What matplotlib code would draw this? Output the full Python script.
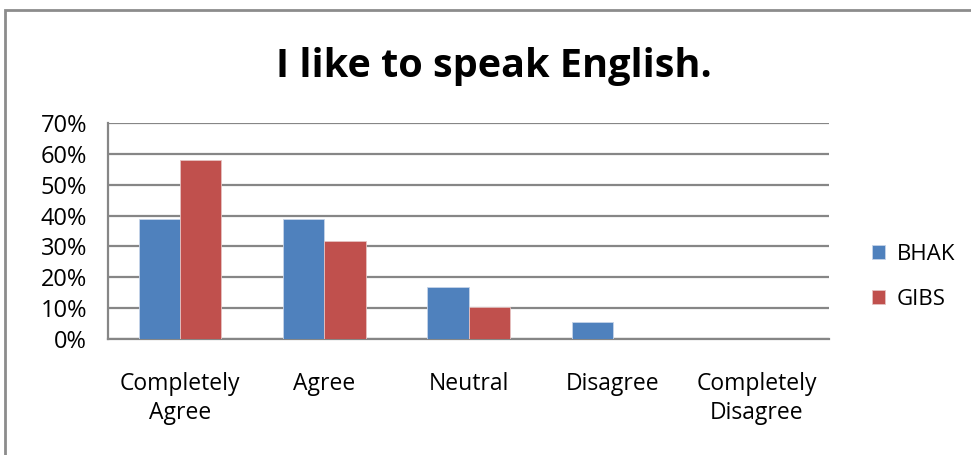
import matplotlib
matplotlib.use("Agg")
import matplotlib.pyplot as plt
import numpy as np
from matplotlib.patches import Rectangle

# ── data ────────────────────────────────────────────
categories = ["Completely\nAgree", "Agree", "Neutral", "Disagree", "Completely\nDisagree"]
bhak = [38.9, 38.9, 16.7, 5.6, 0.0]
gibs = [57.9, 31.6, 10.5, 0.0, 0.0]
series_names = ["BHAK", "GIBS"]
yticks = [0, 10, 20, 30, 40, 50, 60, 70]

BLUE = "#4F81BD"
RED = "#C0504D"
GRID = "#868686"
FONT = ["Open Sans", "DejaVu Sans"]

W, H = 971, 455
fig = plt.figure(figsize=(W / 100, H / 100), dpi=100)
fig.patch.set_facecolor("white")

# outer chart frame
fig.add_artist(Rectangle((5 / W, -0.05), 1.2, (H - 10) / H + 0.05,
                         transform=fig.transFigure, fill=False,
                         edgecolor="#8c8c8c", linewidth=2))

# plot area in pixels: x 108..829, y 123..339
ax = fig.add_axes([108 / W, 1 - 339 / H, (829 - 108) / W, (339 - 123) / H])

x = np.arange(len(categories))
w = 1 / 3.5
ax.bar(x - w / 2, bhak, width=w, color=BLUE, edgecolor="#c6d4e8", linewidth=0.6,
       label=series_names[0], zorder=3)
ax.bar(x + w / 2, gibs, width=w, color=RED, edgecolor="#e6c2c1", linewidth=0.6,
       label=series_names[1], zorder=3)

ax.set_xlim(-0.5, len(categories) - 0.5)
ax.set_ylim(0, 70)
ax.set_yticks(yticks)
ax.set_yticklabels([f"{t}%" for t in yticks], fontsize=17, family=FONT)
ax.set_xticks(x)
ax.set_xticklabels(categories, fontsize=16.5, family=FONT, linespacing=1.25)
ax.tick_params(axis="y", length=0, pad=15)
ax.tick_params(axis="x", length=0, pad=24)
ax.grid(axis="y", color=GRID, linewidth=1.6, zorder=0)
ax.set_axisbelow(True)
for side in ["top", "right"]:
    ax.spines[side].set_visible(False)
ax.spines["left"].set_color(GRID)
ax.spines["left"].set_linewidth(1.6)
ax.spines["bottom"].set_color(GRID)
ax.spines["bottom"].set_linewidth(1.6)

fig.text(494 / W, 1 - 67 / H, "I like to speak English.", ha="center", va="center",
         fontsize=28.5, fontweight="bold", family=FONT)

leg = fig.legend(loc="center left", bbox_to_anchor=(852 / W, 1 - 277 / H),
                 frameon=False, prop={"family": FONT, "size": 16},
                 handlelength=0.6, handleheight=0.6, handletextpad=0.5,
                 labelspacing=1.1)

fig.savefig("out.png", dpi=100, facecolor="white")
